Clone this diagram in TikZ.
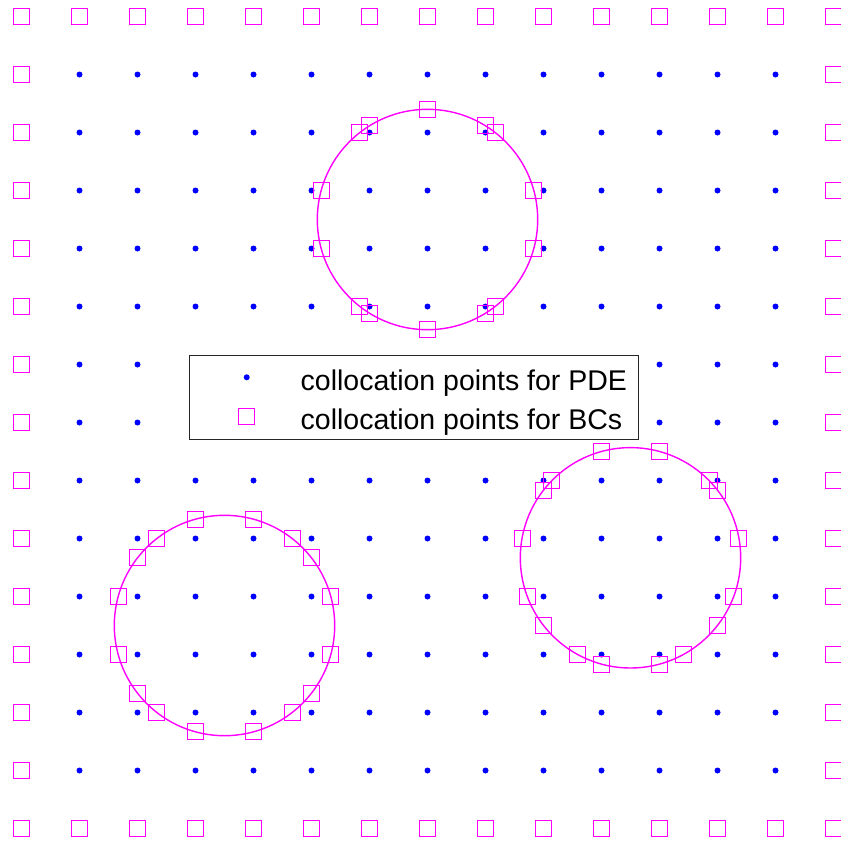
\documentclass[tikz,border=0pt]{standalone}
\usepackage{fontspec}
\setmainfont{Liberation Sans}
\definecolor{mag}{RGB}{255,0,255}
\definecolor{blu}{RGB}{0,0,255}
\definecolor{edgegray}{RGB}{38,38,38}
\begin{document}
\begin{tikzpicture}[x=1pt, y=-1pt,
  bcmark/.pic={\draw[draw=mag, line width=1.4pt] (-8,-8) rectangle (8,8);},
  pdedot/.style={fill=blu},
  hole/.style={draw=mag, line width=1.4pt},
  legtext/.style={anchor=base west, inner sep=0pt, font=\fontsize{28.5pt}{34pt}\selectfont},
]
\useasboundingbox (0,0) rectangle (841,841);
% interior collocation points
\foreach \i in {1,...,13} {
  \foreach \j in {1,...,13} {
    \fill[pdedot] ({21.5+58*\i},{16.5+58*\j}) circle[radius=3];
  }
}
% outer boundary points
\foreach \k in {0,...,14} {
  \pic at ({21.5+58*\k},16.5) {bcmark};
  \pic at ({21.5+58*\k},828.5) {bcmark};
  \pic at (21.5,{16.5+58*\k}) {bcmark};
  \pic at (833.5,{16.5+58*\k}) {bcmark};
}
% holes
\draw[hole] (427.5,219.5) circle[radius=110.2];
\draw[hole] (224.5,625.5) circle[radius=110.2];
\draw[hole] (630.5,557.8) circle[radius=110.2];
% hole boundary points
\foreach \px/\py in {
    369.5/125.5,369.5/313.5,485.5/125.5,485.5/313.5,427.5/109.5,427.5/329.5,
    359.5/132.5,495.5/132.5,359.5/306.5,495.5/306.5,321.5/190.5,533.5/190.5,321.5/248.5,533.5/248.5,
    137.5/557.5,137.5/693.5,311.5/557.5,311.5/693.5,195.5/519.5,195.5/731.5,253.5/519.5,253.5/731.5,
    156.5/538.5,292.5/538.5,156.5/712.5,292.5/712.5,118.5/596.5,330.5/596.5,118.5/654.5,330.5/654.5,
    543.5/490.5,543.5/625.5,717.5/490.5,717.5/625.5,601.5/451.5,601.5/664.5,659.5/451.5,659.5/664.5,
    551.5/480.5,709.5/480.5,522.5/538.5,738.5/538.5,527.5/596.5,733.5/596.5,577.5/654.5,683.5/654.5} {
  \pic at (\px,\py) {bcmark};
}
% legend
\node[draw=edgegray, fill=white, line width=0.9pt, minimum width=448.4pt, minimum height=83.7pt,
      inner sep=0pt, anchor=north west] (legend) at (189.3,355) {};
\fill[pdedot] (246.7,377.3) circle[radius=3];
\pic at (246.5,416.5) {bcmark};
\node[legtext] (legt1) at (300.5,390) {collocation points for PDE};
\node[legtext] (legt2) at (300.5,429.4) {collocation points for BCs};
\end{tikzpicture}
\end{document}
